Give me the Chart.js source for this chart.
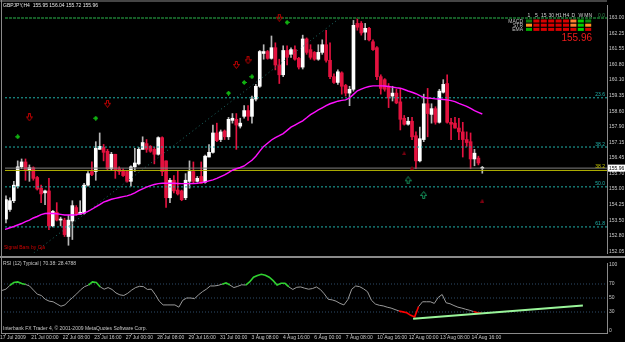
<!DOCTYPE html>
<html><head><meta charset="utf-8">
<script src="https://cdn.jsdelivr.net/npm/chart.js@4.4.1/dist/chart.umd.min.js"></script>
<style>
html,body{margin:0;padding:0;background:#000;}
#wrap{position:relative;width:625px;height:342px;background:#000;overflow:hidden;}
#c1{position:absolute;left:0;top:0;}
#c2{position:absolute;left:0;top:258px;}
</style></head><body>
<div id="wrap"><canvas id="c1" width="625" height="258"></canvas><canvas id="c2" width="625" height="84"></canvas></div>
<script>
// ---------- DATA ----------
const symbolTitle = 'GBPJPY,H4  155.95 156.04 155.72 155.96';
// H4 candles, bar numbers 1..123 (bar 123 = current bar)
const opens = [153.57,154.02,154.43,155.11,156.02,156.25,155.84,155.98,155.52,155.02,
154.80,154.89,153.25,153.89,153.52,153.52,152.75,153.48,154.11,153.80,
153.84,155.16,155.80,155.80,156.84,156.93,156.75,155.93,156.61,155.93,
155.84,155.80,155.34,156.02,156.16,156.84,157.11,156.98,156.84,156.61,
157.39,156.30,154.57,155.39,154.93,154.89,154.57,155.34,155.80,155.34,
155.57,155.30,156.48,156.70,157.61,157.30,157.70,157.43,158.20,158.25,
157.93,158.39,158.66,158.39,159.20,159.80,161.34,161.43,161.11,161.61,
160.80,160.34,161.48,161.30,161.52,161.11,160.70,162.02,161.52,161.39,
161.07,161.39,161.75,161.02,160.25,159.98,160.43,159.84,159.48,159.66,
162.75,162.75,162.34,162.52,161.89,161.61,160.25,160.11,159.80,159.34,
159.48,159.07,158.30,158.02,158.16,157.48,156.30,157.30,158.98,158.48,
158.75,158.11,159.52,159.93,158.11,158.07,157.84,157.66,157.30,157.20,
156.39,156.43,155.95];
const highs = [154.66,154.57,155.34,156.30,156.39,156.39,156.11,156.02,155.57,155.16,
154.93,155.48,153.98,154.34,153.66,153.61,153.75,154.43,154.20,154.43,
155.25,155.80,156.25,157.20,157.61,157.07,156.84,156.70,156.61,156.02,
155.93,155.84,156.07,156.89,156.93,157.43,157.30,157.02,156.93,157.43,
157.43,156.30,155.48,155.61,155.84,154.93,155.70,156.30,156.25,155.57,
156.25,156.57,157.07,157.98,158.07,157.75,157.75,158.34,158.52,158.52,
158.30,158.89,158.89,159.34,159.89,161.48,161.75,161.48,162.16,161.84,
161.07,161.70,161.70,161.61,161.70,161.16,162.20,162.07,161.75,161.43,
161.75,161.98,162.43,161.84,160.39,160.57,160.48,159.89,159.80,162.89,
163.00,162.84,162.75,162.57,161.98,161.66,160.34,160.16,159.93,159.80,
159.66,159.66,158.43,158.34,158.34,157.66,157.89,159.43,159.70,158.98,
158.84,159.66,160.11,160.34,158.30,158.34,158.30,158.11,157.66,157.61,
156.84,156.52,156.04];
const lows = [153.39,153.93,154.34,155.02,155.93,155.39,155.34,155.39,154.93,154.34,
154.25,153.07,153.20,153.48,153.25,152.75,152.34,152.61,153.75,153.80,
153.80,155.11,155.61,155.39,156.84,156.30,155.89,155.84,155.48,155.66,
155.57,155.30,155.11,155.80,156.11,156.84,156.70,156.70,156.16,156.57,
155.61,154.11,154.34,154.80,154.70,154.43,154.48,155.02,155.25,155.30,
155.25,155.25,156.48,156.66,157.20,157.20,157.30,157.30,158.07,156.84,
157.84,158.30,158.20,158.07,159.11,159.75,161.07,161.07,161.07,160.57,
159.93,160.25,160.80,161.16,161.02,160.61,160.61,161.30,161.07,161.02,
161.02,161.30,160.93,160.16,159.93,159.89,159.43,159.34,158.89,159.57,
162.43,162.20,161.98,161.93,161.48,160.11,159.43,159.57,158.80,159.11,
158.98,157.75,157.98,157.98,157.30,155.93,156.25,157.20,157.43,158.07,
158.02,158.07,159.48,158.07,157.30,157.84,157.30,156.48,156.98,155.93,
156.07,156.11,155.72];
const closes = [154.48,154.43,155.16,156.02,156.25,155.84,155.98,155.48,154.98,154.75,
154.89,153.25,153.93,153.52,153.57,152.84,153.52,154.20,153.80,153.89,
155.16,155.70,155.66,156.89,156.98,156.70,155.93,156.61,155.84,155.80,
155.61,155.34,156.02,156.20,156.84,157.16,156.84,156.75,156.61,157.39,
155.80,154.57,155.39,154.89,154.75,154.48,155.39,155.80,155.34,155.48,
155.25,156.52,156.70,157.61,157.25,157.66,157.43,158.25,158.30,157.98,
158.07,158.66,158.39,159.20,159.80,161.43,161.43,161.11,161.61,160.80,
160.34,161.48,161.16,161.52,161.07,160.70,162.02,161.39,161.16,161.07,
161.39,161.75,161.02,160.25,159.98,160.48,159.80,159.48,159.66,162.66,
162.57,162.30,162.52,161.98,161.52,160.25,159.70,159.66,159.25,159.48,
159.02,158.25,158.02,158.16,157.43,156.30,157.34,158.98,158.52,158.75,
158.11,159.57,159.89,158.11,158.02,157.84,157.66,157.30,157.16,156.39,
156.66,156.20,155.96];
// moving average (magenta), bar numbers 0..123
const maValues = [153.05,153.10,153.16,153.22,153.29,153.36,153.45,153.52,153.62,153.69,
153.78,153.83,153.84,153.83,153.82,153.79,153.76,153.76,153.76,153.77,
153.81,153.85,153.93,154.03,154.14,154.25,154.36,154.43,154.50,154.54,
154.58,154.62,154.66,154.72,154.80,154.90,154.99,155.07,155.14,155.19,
155.23,155.25,155.25,155.25,155.25,155.24,155.23,155.23,155.23,155.24,
155.25,155.28,155.31,155.36,155.41,155.48,155.56,155.64,155.75,155.86,
155.93,155.99,156.06,156.20,156.33,156.52,156.76,156.98,157.13,157.28,
157.39,157.48,157.58,157.73,157.88,157.98,158.08,158.18,158.32,158.47,
158.58,158.69,158.79,158.89,158.98,159.04,159.10,159.14,159.16,159.25,
159.42,159.59,159.67,159.74,159.79,159.82,159.82,159.82,159.81,159.79,
159.76,159.73,159.71,159.65,159.58,159.52,159.45,159.36,159.28,159.25,
159.23,159.21,159.20,159.18,159.16,159.13,159.08,159.00,158.93,158.86,
158.76,158.66,158.58,158.50];
// RSI(12) typical, bar numbers 0..123
const rsiValues = [59.5,60.8,62.6,68.0,72.1,73.0,70.7,69.4,67.2,61.3,
55.4,53.6,48.2,45.5,44.6,41.4,38.3,40.1,45.9,50.9,
55.9,61.7,66.2,68.5,73.0,72.1,65.8,62.6,64.9,62.2,
57.2,54.5,53.6,56.8,61.3,64.9,66.7,66.2,62.2,62.6,
55.0,45.5,40.1,40.1,40.1,40.1,36.9,46.8,50.0,50.0,
49.1,54.5,59.0,62.6,67.2,67.2,68.0,69.8,71.6,68.5,
64.9,66.7,68.9,68.5,73.0,79.7,82.0,83.8,82.4,79.7,
74.8,68.5,71.0,71.0,65.8,62.2,65.3,65.8,64.0,62.6,
63.5,65.8,62.2,55.9,48.2,47.3,45.5,42.3,40.1,47.7,
62.6,67.2,66.2,63.1,59.0,46.8,41.4,39.6,38.7,36.9,
35.6,33.5,31.5,30.2,28.8,25.2,23.0,37.8,44.6,44.6,
44.6,42.3,50.9,55.0,43.2,41.8,39.2,36.9,35.6,33.9,
32.4,30.6,29.0,28.5];
const rsiTrendBars = [105.6, 148.8];
const rsiTrendValues = [20.3, 39.2];
const rsiLevels = [70, 50, 30];
const rsiTickLabels = ['100','70','50','30','0'];
const rsiTickPos = [97, 70, 50, 30, 4];
// time axis
const timeBars = [2,10,18,26,34,42,50,58,66,74,82,90,98,106,114,122];
const timeLabels = ['17 Jul 2009','21 Jul 00:00','22 Jul 08:00','23 Jul 16:00','27 Jul 00:00','28 Jul 08:00',
  '29 Jul 16:00','31 Jul 00:00','3 Aug 08:00','4 Aug 16:00','6 Aug 00:00','7 Aug 08:00','10 Aug 16:00',
  '12 Aug 00:00','13 Aug 08:00','14 Aug 16:00'];
// price axis
const priceTicks = [163.00,162.25,161.55,160.80,160.10,159.35,158.60,157.90,157.15,156.45,155.70,155.00,154.25,153.50,152.80,152.05];
const priceTickLabels = ['163.00','162.25','161.55','160.80','160.10','159.35','158.60','157.90','157.15','156.45','155.70','155.00','154.25','153.50','152.80','152.05'];
const bidPrice = 155.96;
// Fibonacci
const fibLevels = [163.00, 159.26, 156.95, 155.08, 153.20];
const fibNames = ['0.0','23.6','38.2','50.0','61.8'];
const fib2Level = 155.85, fib2Name = '38.2';
const fibTrendBars = [8.12, 86.5];
const fibTrendPrices = [151.98, 163.00];
// markers
const redArrowBars = [7, 27, 60, 63, 71];
const redArrowPrices = [158.34, 158.98, 160.80, 161.02, 163.02];
const greenMarkBars = [4, 24, 58, 62, 64, 73];
const greenMarkPrices = [157.43, 158.30, 159.48, 159.98, 160.25, 162.80];
const greenUpBars = [104, 108];
const greenUpPrices = [155.39, 154.70];
const darkMarkBars = [103, 105, 123];
const darkMarkPrices = [156.66, 155.98, 154.43];
// signal table
const tfNames = ['1','5','15','30','H1','H4','D','W','MN'];
const sigRows = ['MACD','STR','EMA'];
const sigColors = [
  ['#0a7a0a','#d80000','#d80000','#d80000','#d80000','#d80000','#ff8030','#00d000','#0a8a0a'],
  ['#ff9020','#d80000','#d80000','#d80000','#d80000','#d80000','#ff8030','#00d000','#ff9020'],
  ['#00b000','#d80000','#d80000','#d80000','#d80000','#d80000','#d80000','#00d000','#d80000']];

// ---------- layout constants ----------
const X_MIN = 0.7455, X_MAX = 154.94;
const FONT = '"Liberation Sans", Arial, sans-serif';
Chart.defaults.font.family = FONT;
Chart.defaults.font.size = 5;
Chart.defaults.color = '#c8c8c8';

const bars = opens.map((_, k) => k + 1);
const up = k => closes[k] >= opens[k];
const RED = '#e3123f';

function mk(w, h, draw) { const c = document.createElement('canvas'); c.width = w; c.height = h; draw(c.getContext('2d')); return c; }
const greenStar = mk(5,5,g=>{g.fillStyle='#10b010';g.fillRect(2,0,1,5);g.fillRect(0,2,5,1);g.fillRect(1,1,3,3);});
const redDown = mk(7,8,g=>{g.strokeStyle='#c00000';g.lineWidth=1;g.beginPath();g.moveTo(2.5,0.5);g.lineTo(4.5,0.5);g.lineTo(4.5,3.5);g.lineTo(6.5,3.5);g.lineTo(3.5,7.5);g.lineTo(0.5,3.5);g.lineTo(2.5,3.5);g.closePath();g.stroke();});
const greenUp = mk(7,8,g=>{g.strokeStyle='#14905a';g.lineWidth=1;g.beginPath();g.moveTo(2.5,7.5);g.lineTo(4.5,7.5);g.lineTo(4.5,4.5);g.lineTo(6.5,4.5);g.lineTo(3.5,0.5);g.lineTo(0.5,4.5);g.lineTo(2.5,4.5);g.closePath();g.stroke();});
const darkTri = mk(4,4,g=>{g.fillStyle='#800010';g.beginPath();g.moveTo(2,0);g.lineTo(4,4);g.lineTo(0,4);g.closePath();g.fill();});

function hline(level, color, width, dash) {
  return {type:'line', data:[{x:X_MIN,y:level},{x:X_MAX,y:level}], borderColor:color, borderWidth:width,
    borderDash:dash, pointRadius:0, order:2};
}
function markers(bs, ps, style) {
  return {type:'line', data: bs.map((b,k)=>({x:b,y:ps[k]})), showLine:false, pointStyle:style, pointRadius:3, order:-1};
}

const decorMain = {
  id:'decorMain',
  beforeDraw(chart){ const c=chart.ctx; c.save(); c.fillStyle='#000'; c.fillRect(0,0,chart.width,chart.height); c.restore(); },
  afterDraw(chart){
    const c = chart.ctx, ys = chart.scales.y, a = chart.chartArea;
    c.save();
    c.font = '5px ' + FONT;
    c.textBaseline = 'alphabetic';
    // fib labels
    c.textAlign = 'right';
    fibLevels.forEach((lv,k)=>{ c.fillStyle = k===0 ? '#2f8a4a' : '#20b2aa'; c.fillText(fibNames[k], a.right-2, ys.getPixelForValue(lv)-1.5); });
    c.fillStyle = '#c8c800'; c.fillText(fib2Name, a.right-2, ys.getPixelForValue(fib2Level)-2.5);
    // header
    c.textAlign = 'left'; c.fillStyle = '#e8e8e8';
    c.fillText(symbolTitle, 3, 7);
    c.fillStyle = '#d00000';
    c.fillText('Signal Bars by Cja', 4, 249);
    // signal table
    c.textAlign = 'center'; c.fillStyle = '#d0d0d0';
    tfNames.forEach((t,j)=>c.fillText(t, 529 + j*7.4, 17));
    c.textAlign = 'right';
    sigRows.forEach((r,i)=>{
      c.fillStyle = '#c0c0c0'; c.fillText(r, 523, 22.5 + i*4.2);
      sigColors[i].forEach((col,j)=>{ c.fillStyle = col; c.fillRect(526 + j*7.4, 19.5 + i*4.2, 6, 3); });
    });
    c.font = '10px ' + FONT; c.fillStyle = '#ee1c1c'; c.textAlign = 'right';
    c.fillText(bidPrice.toFixed(2), 592, 41);
    // bid box
    const by = ys.getPixelForValue(bidPrice);
    c.fillStyle = '#ffffff'; c.fillRect(608, by-3.5, 17, 7);
    c.font = '5px ' + FONT; c.fillStyle = '#000'; c.textAlign = 'left';
    c.fillText(bidPrice.toFixed(2), 609, by+2);
    // frame
    c.fillStyle = '#8a8a8a';
    c.fillRect(0, 0.5, a.right, 1);
    c.fillRect(1, 0, 1, chart.height);
    c.fillRect(0, 256, 625, 2);
    c.restore();
  }
};

new Chart(document.getElementById('c1'), {
  type:'bar',
  data:{ datasets:[
    markers(redArrowBars, redArrowPrices, redDown),
    markers(greenMarkBars, greenMarkPrices, greenStar),
    markers(greenUpBars, greenUpPrices, greenUp),
    markers(darkMarkBars, darkMarkPrices, darkTri),
    {type:'line', data: maValues.map((v,i)=>({x:i,y:v})), borderColor:'#ff10ff', borderWidth:1.4, pointRadius:0, order:0},
    hline(fibLevels[0], '#155c26', 2, [3,1]),
    hline(fibLevels[1], '#20b2aa', 1, [2,2]),
    hline(fibLevels[2], '#20b2aa', 1, [2,2]),
    hline(fibLevels[3], '#20b2aa', 1, [2,2]),
    hline(fibLevels[4], '#20b2aa', 1, [2,2]),
    hline(bidPrice, '#808080', 1, []),
    hline(fib2Level, '#b4b400', 1, []),
    {type:'line', data: fibTrendBars.map((b,k)=>({x:b,y:fibTrendPrices[k]})), borderColor:'#1d6b66', borderWidth:1, borderDash:[1,3], pointRadius:0, order:2},
    {type:'bar', data: bars.map((b,k)=>({x:b, y:[lows[k], highs[k]]})), barThickness:1, grouped:false, order:5,
      backgroundColor: ctx => up(ctx.dataIndex) ? '#b8b8b8' : RED},
    {type:'bar', data: bars.map((b,k)=>({x:b, y:[opens[k], closes[k]]})), barThickness:3, minBarLength:1, grouped:false, order:4,
      backgroundColor: ctx => up(ctx.dataIndex) ? '#ffffff' : RED}
  ]},
  options:{
    responsive:false, animation:false, devicePixelRatio:1, events:[],
    layout:{padding:{left:1, top:1, right:0, bottom:1}},
    plugins:{legend:{display:false}, tooltip:{enabled:false}},
    scales:{
      x:{type:'linear', display:false, min:X_MIN, max:X_MAX, offset:false, grid:{offset:false}},
      y:{type:'linear', position:'right', min:151.977, max:163.614,
        afterFit: s => { s.width = 18; },
        afterBuildTicks: s => { s.ticks = priceTicks.map(v=>({value:v})); },
        grid:{display:false, drawTicks:false},
        border:{display:true, color:'#8a8a8a', width:1},
        ticks:{padding:2, color:'#c8c8c8', font:{size:5}, callback:(v,i)=>priceTickLabels[i]}
      }
    }
  },
  plugins:[decorMain]
});

const decorRsi = {
  id:'decorRsi',
  beforeDraw(chart){ const c=chart.ctx; c.save(); c.fillStyle='#000'; c.fillRect(0,0,chart.width,chart.height); c.restore(); },
  afterDraw(chart){
    const c = chart.ctx;
    c.save();
    c.font = '5px ' + FONT; c.textBaseline='alphabetic'; c.textAlign='left';
    c.fillStyle = '#c8c8c8';
    c.fillText('RSI (12) Typical | 70.38: 28.4788', 3, 7);
    c.fillText('Interbank FX Trader 4, \u00a9 2001-2009 MetaQuotes Software Corp.', 3, 72);
    c.fillStyle = '#8a8a8a';
    c.fillRect(1, 0, 1, 76);
    c.restore();
  }
};

new Chart(document.getElementById('c2'), {
  type:'line',
  data:{ datasets:[
    {data: rsiValues.map((v,i)=>({x:i,y:v})), borderColor:'#9a9a9a', borderWidth:1, pointRadius:0, order:1,
      segment:{
        borderColor: ctx => { const a=ctx.p0.parsed.y, b=ctx.p1.parsed.y;
          if (a>70.5||b>70.5) return '#30d030'; if (a<30.5||b<30.5) return '#ff0000'; return undefined; },
        borderWidth: ctx => { const a=ctx.p0.parsed.y, b=ctx.p1.parsed.y;
          return (a>70.5||b>70.5||a<30.5||b<30.5) ? 1.6 : undefined; }
      }},
    {data: rsiTrendBars.map((b,k)=>({x:b,y:rsiTrendValues[k]})), borderColor:'#9af59a', borderWidth:2, pointRadius:0, order:0},
    ...rsiLevels.map(l=>({data:[{x:X_MIN,y:l},{x:X_MAX,y:l}], borderColor:'#2e4d6a', borderWidth:1, borderDash:[1,2], pointRadius:0, order:3}))
  ]},
  options:{
    responsive:false, animation:false, devicePixelRatio:1, events:[],
    layout:{padding:{left:1, top:1, right:0, bottom:0}},
    plugins:{legend:{display:false}, tooltip:{enabled:false}},
    scales:{
      x:{type:'linear', min:X_MIN, max:X_MAX, offset:false,
        afterFit: s => { s.height = 9; },
        afterBuildTicks: s => { s.ticks = timeBars.map(v=>({value:v})); },
        grid:{display:true, drawOnChartArea:false, drawTicks:true, tickLength:2, color:'#8a8a8a'},
        border:{display:true, color:'#8a8a8a'},
        ticks:{align:'start', labelOffset:-6, maxRotation:0, autoSkip:false, padding:0, color:'#c8c8c8', font:{size:5},
          callback:(v,i)=>timeLabels[i]}
      },
      y:{type:'linear', position:'right', min:0, max:100,
        afterFit: s => { s.width = 18; },
        afterBuildTicks: s => { s.ticks = rsiTickPos.map(v=>({value:v})); },
        grid:{display:false, drawTicks:false},
        border:{display:true, color:'#8a8a8a', width:1},
        ticks:{padding:2, color:'#c8c8c8', font:{size:5}, callback:(v,i)=>rsiTickLabels[i]}
      }
    }
  },
  plugins:[decorRsi]
});
</script>
</body></html>
